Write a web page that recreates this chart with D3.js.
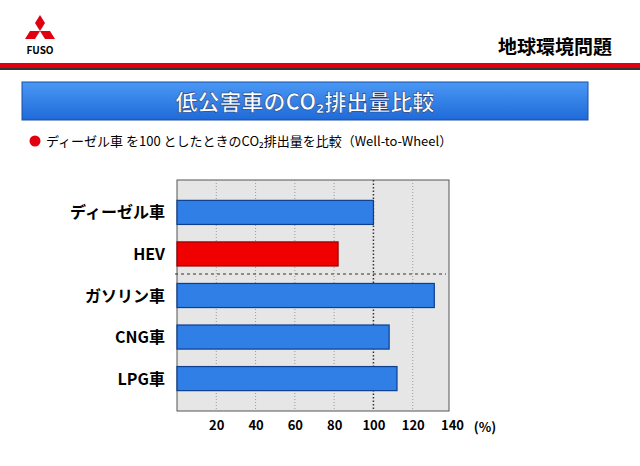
<!DOCTYPE html><html><head><meta charset="utf-8">
<script src="https://cdn.jsdelivr.net/npm/d3@7"></script>
<style>body{margin:0;background:#fff}text{font-family:"Noto Sans CJK JP","Noto Sans",sans-serif}</style></head><body>
<svg id="c" width="640" height="466"></svg>
<script>
const categories=["ディーゼル車","HEV","ガソリン車","CNG車","LPG車"];
const values=[100,82,131,108,112];
const barColors=["#2f7fe6","#f00000","#2f7fe6","#2f7fe6","#2f7fe6"];
const ticks=[20,40,60,80,100,120,140];
const svg=d3.select("#c");
const defs=svg.append("defs");
const g1=defs.append("linearGradient").attr("id","tb").attr("x1",0).attr("y1",0).attr("x2",0).attr("y2",1);
g1.append("stop").attr("offset","0").attr("stop-color","#4a98f5");g1.append("stop").attr("offset","1").attr("stop-color","#1f6ad8");
const lg=svg.append("g").attr("fill","#e00010");
const cx=40,cy=28;
lg.append("path").attr("d",`M${cx},${cy-13}l5,8l-5,8l-5,-8z`);
lg.append("path").attr("d",`M${cx},${cy+3}l-10,0l-5,8l10,0z`);
lg.append("path").attr("d",`M${cx},${cy+3}l10,0l5,8l-10,0z`);
svg.append("text").attr("x",40).attr("y",54).attr("text-anchor","middle").attr("font-size",10).attr("font-weight","bold").attr("font-family","Liberation Sans").text("FUSO");
svg.append("text").attr("x",612).attr("y",54).attr("text-anchor","end").attr("font-size",19).attr("font-weight","bold").text("地球環境問題");
svg.append("rect").attr("x",0).attr("y",63).attr("width",640).attr("height",5).attr("fill","#e00010");
svg.append("rect").attr("x",0).attr("y",68).attr("width",640).attr("height",2).attr("fill","#333");
svg.append("rect").attr("x",22).attr("y",82).attr("width",566).attr("height",38).attr("fill","url(#tb)").attr("stroke","#1a4fa0");
svg.append("text").attr("x",305).attr("y",110).attr("text-anchor","middle").attr("fill","#fff").attr("font-size",22).attr("font-weight","bold").attr("stroke","#1a3c80").attr("stroke-width",0.6).text("低公害車のCO₂排出量比較");
svg.append("circle").attr("cx",35).attr("cy",141).attr("r",5.5).attr("fill","#e00010");
svg.append("text").attr("x",46).attr("y",146).attr("font-size",13).text("ディーゼル車 を100 としたときのCO₂排出量を比較（Well-to-Wheel）");
const x=d3.scaleLinear().domain([0,140]).range([177,452]);
const y=d3.scaleBand().domain(categories).range([180,411]).paddingInner(0.42).paddingOuter(0.49);
svg.append("rect").attr("x",177).attr("y",180).attr("width",272).attr("height",231).attr("fill","#e6e6e6").attr("stroke","#555");
svg.append("g").selectAll("line").data(ticks.filter(t=>t<140)).join("line")
 .attr("x1",d=>x(d)).attr("x2",d=>x(d)).attr("y1",180).attr("y2",411)
 .attr("stroke",d=>d===100?"#333":"#888").attr("stroke-width",d=>d===100?1.5:0.8).attr("stroke-dasharray",d=>d===100?"1.5,2":"1,2");
svg.append("line").attr("x1",175).attr("x2",446).attr("y1",274).attr("y2",274).attr("stroke","#333").attr("stroke-dasharray","3,3");
svg.append("g").selectAll("rect").data(categories).join("rect")
 .attr("x",x(0)).attr("y",d=>y(d)).attr("width",(d,i)=>x(values[i])-x(0)).attr("height",y.bandwidth())
 .attr("fill",(d,i)=>barColors[i]).attr("stroke",(d,i)=>i==1?"#900":"#0d3f8f").attr("stroke-width",1.2);
svg.append("g").selectAll("text").data(categories).join("text")
 .attr("x",165).attr("y",d=>y(d)+y.bandwidth()/2+6).attr("text-anchor","end").attr("font-size",16).attr("font-weight","bold").text(d=>d);
const ax=svg.append("g").attr("transform","translate(0,411)").call(d3.axisBottom(x).tickValues(ticks).tickSize(0).tickPadding(10));
ax.select(".domain").remove();
ax.selectAll("text").attr("font-size",13).attr("font-weight","bold").attr("font-family","Liberation Sans");
svg.append("text").attr("x",485).attr("y",432).attr("text-anchor","middle").attr("font-size",13).attr("font-weight","bold").attr("font-family","Liberation Sans").text("(%)");
</script></body></html>
